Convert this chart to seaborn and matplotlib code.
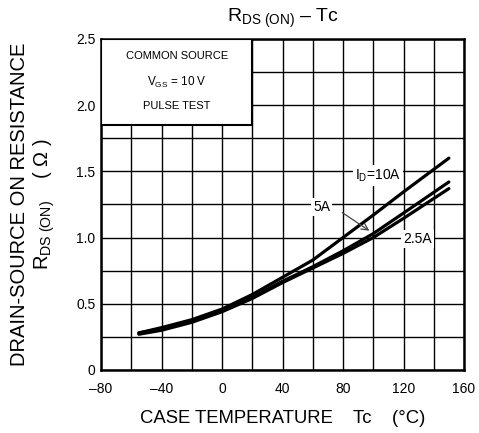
import matplotlib
matplotlib.use("Agg")
import matplotlib.pyplot as plt
import seaborn as sns
import pandas as pd
from matplotlib.ticker import MultipleLocator, FixedLocator
from matplotlib.patches import Rectangle

temps = [-55, -40, -20, 0, 20, 40, 60, 80, 100, 120, 150]
r_10a = [0.28, 0.32, 0.38, 0.46, 0.57, 0.70, 0.83, 1.00, 1.17, 1.345, 1.60]
r_5a = [0.28, 0.31, 0.37, 0.45, 0.55, 0.67, 0.78, 0.90, 1.03, 1.185, 1.42]
r_25a = [0.27, 0.30, 0.36, 0.44, 0.54, 0.66, 0.77, 0.88, 1.00, 1.145, 1.37]
series_names = ["10A", "5A", "2.5A"]
x_ticks = [-80, -40, 0, 40, 80, 120, 160]
x_tick_labels = ["–80", "–40", "0", "40", "80", "120", "160"]
y_ticks = [0, 0.5, 1.0, 1.5, 2.0, 2.5]
y_tick_labels = ["0", "0.5", "1.0", "1.5", "2.0", "2.5"]

rows = []
for name, vals in zip(series_names, [r_10a, r_5a, r_25a]):
    for t, v in zip(temps, vals):
        rows.append({"Tc": t, "R": v, "ID": name})
df = pd.DataFrame(rows)

sns.set_theme(style="white")
plt.rcParams["font.family"] = ["Liberation Sans", "DejaVu Sans"]
plt.rcParams["mathtext.fontset"] = "custom"
plt.rcParams["mathtext.rm"] = "Liberation Sans"
plt.rcParams["mathtext.it"] = "Liberation Sans"
plt.rcParams["text.color"] = "black"
plt.rcParams["axes.labelcolor"] = "black"
plt.rcParams["xtick.color"] = "black"
plt.rcParams["ytick.color"] = "black"

fig = plt.figure(figsize=(4.79, 4.33), dpi=100)
ax = fig.add_axes([0.2109, 0.1455, 0.7578, 0.7645])

sns.lineplot(data=df, x="Tc", y="R", hue="ID", palette=["black"] * 3,
             linewidth=2.3, legend=False, ax=ax, zorder=4, estimator=None)

ax.set_xlim(-80, 160)
ax.set_ylim(0, 2.5)
ax.xaxis.set_major_locator(FixedLocator(x_ticks))
ax.set_xticklabels(x_tick_labels)
ax.yaxis.set_major_locator(FixedLocator(y_ticks))
ax.set_yticklabels(y_tick_labels)
ax.xaxis.set_minor_locator(MultipleLocator(20))
ax.yaxis.set_minor_locator(MultipleLocator(0.25))
ax.grid(True, which="both", color="black", linewidth=1.0)
ax.set_axisbelow(True)
ax.tick_params(which="both", length=0, labelsize=10, colors="black")
ax.tick_params(axis="x", pad=9)
ax.tick_params(axis="y", pad=4)
for s in ax.spines.values():
    s.set_color("black")
    s.set_linewidth(1.8)

box = Rectangle((-80, 1.85), 100, 0.65, facecolor="white", edgecolor="black",
                linewidth=1.5, zorder=3)
ax.add_patch(box)
ax.text(-30, 2.37, "COMMON SOURCE", ha="center", va="center", fontsize=8, zorder=5)
ax.text(-30, 2.17, r"V$_{\mathrm{GS}}$ = 10 V", ha="center", va="center", fontsize=8.5, zorder=5)
ax.text(-30, 1.99, "PULSE TEST", ha="center", va="center", fontsize=8, zorder=5)

bb = dict(facecolor="white", edgecolor="none", pad=1.5)
ax.text(103, 1.47, r"I$_{\mathrm{D}}$=10A", ha="center", va="center", fontsize=10, bbox=bb, zorder=5)
ax.text(66, 1.23, "5A", ha="center", va="center", fontsize=10, bbox=bb, zorder=5)
ax.text(129, 0.99, "2.5A", ha="center", va="center", fontsize=10, bbox=bb, zorder=5)
ax.annotate("", xy=(99, 1.04), xytext=(78, 1.20),
            arrowprops=dict(arrowstyle="->", color="#444444", lw=0.9), zorder=5)

ax.set_title(r"R$_{\mathrm{DS\ (ON)}}$ – Tc", fontsize=14, pad=12)
ax.set_xlabel("CASE TEMPERATURE    Tc    (°C)", fontsize=13.3, labelpad=10)
ax.set_ylabel("DRAIN-SOURCE ON RESISTANCE\n" + r"R$_{\mathrm{DS\ (ON)}}$    ( Ω )",
              fontsize=14.5, labelpad=14, linespacing=1.1)

fig.savefig("out.png", dpi=100)
